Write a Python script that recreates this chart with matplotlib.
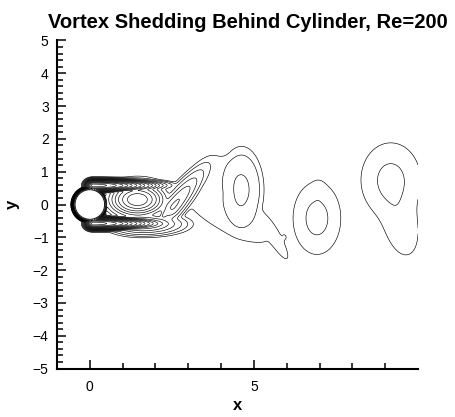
import numpy as np
import matplotlib
matplotlib.use("Agg")
import matplotlib.pyplot as plt
from matplotlib.patches import Circle
from matplotlib.ticker import MultipleLocator, FixedLocator

plt.rcParams["font.family"] = ["Liberation Sans", "DejaVu Sans"]

# cylinder
cyl_x, cyl_y, cyl_r = 0.0, 0.0, 0.45

# boundary layer wrapped around the cylinder
ring_peak = 40.0
ring_width = 0.06

# vorticity patches: centre, peak, spread downstream / upstream / across,
# tilt in degrees and profile exponent (1 = gaussian, >1 = flatter top)
#            sh+   sh-   spir  lower loop  braid A     Atail bump  env   B     Btip  C     Ctail bridge
patch_x = [0.10, 0.10, 1.45, 1.60, 2.30, 2.55, 4.62, 5.60, 5.92, 4.45, 6.92, 6.97, 9.17, 9.45, 3.90]
patch_y = [0.58, -0.58, 0.15, -0.60, -0.28, -0.05, 0.45, -0.95, -1.00, -0.45, -0.42, 0.40, 0.75, -0.50, 0.95]
patch_peak = [30.0, 30.0, 6.0, 3.0, 2.0, 2.5, 0.881, 0.45, 0.38, 0.45, 0.62, 0.40, 0.61, 0.50, 0.45]
patch_sa = [0.90, 0.90, 0.50, 0.75, 0.18, 0.95, 0.50, 0.80, 0.12, 1.20, 0.68, 0.22, 0.86, 1.25, 0.60]
patch_su = [0.12, 0.12, 0.50, 0.60, 0.18, 0.40, 0.50, 0.80, 0.12, 1.70, 0.68, 0.22, 0.86, 1.25, 0.60]
patch_sb = [0.09, 0.09, 0.30, 0.20, 0.08, 0.22, 0.96, 0.18, 0.15, 0.50, 1.03, 0.35, 1.07, 0.60, 0.50]
patch_tilt = [0, 0, 0, 0, 50, 51, 0, -60, 0, -27, 0, 0, 0, -77, 10]
patch_p = [1, 1, 1, 1, 1, 1, 1.5, 2, 1, 2, 1, 1, 1, 1, 2]

levels = [0.35, 0.55, 0.85, 1.3, 1.8, 2.4, 3.1, 4.0, 5.0, 6.5, 8.0, 10.0,
          12.5, 15.0, 18.0, 22.0, 27.0, 33.0, 40.0]

blend = 4  # power used to merge overlapping patches


def vorticity(x, y):
    r = np.hypot(x - cyl_x, y - cyl_y)
    front = 0.55 - 0.45 * (x - cyl_x) / np.maximum(r, 1e-9)
    total = (ring_peak * np.exp(-((r - cyl_r) / ring_width) ** 2) * front) ** blend
    for cx, cy, a, sa, su, sb, t, p in zip(patch_x, patch_y, patch_peak, patch_sa,
                                           patch_su, patch_sb, patch_tilt, patch_p):
        c, s = np.cos(np.radians(t)), np.sin(np.radians(t))
        u = (x - cx) * c + (y - cy) * s
        v = -(x - cx) * s + (y - cy) * c
        along = np.where(u > 0, sa, su)
        q = (u / along) ** 2 + (v / sb) ** 2
        total = total + (a * np.exp(-((q / 2) ** p))) ** blend
    w = total ** (1.0 / blend)
    return np.where(r < cyl_r, np.nan, w)


xg = np.linspace(-1.0, 10.0, 1100)
yg = np.linspace(-5.0, 5.0, 1000)
X, Y = np.meshgrid(xg, yg)
W = vorticity(X, Y)

fig = plt.figure(figsize=(4.55, 4.17), dpi=100)
ax = fig.add_axes([57 / 455, 48 / 417, 361 / 455, 329 / 417])

ax.contour(X, Y, W, levels=levels, colors="black", linewidths=0.45)
ax.add_patch(Circle((cyl_x, cyl_y), cyl_r, facecolor="white", edgecolor="black", lw=0.6, zorder=3))

ax.set_xlim(-1, 10)
ax.set_ylim(-5, 5)
ax.set_aspect("equal")

for side in ("top", "right"):
    ax.spines[side].set_visible(False)
for side in ("left", "bottom"):
    ax.spines[side].set_linewidth(1.5)

ax.xaxis.set_major_locator(FixedLocator([0, 5]))
ax.xaxis.set_minor_locator(FixedLocator([1, 2, 3, 4, 6, 7, 8, 9]))
ax.yaxis.set_major_locator(MultipleLocator(1))
ax.yaxis.set_minor_locator(MultipleLocator(0.2))
ax.tick_params(which="both", direction="in", width=1.1, top=False, right=False, labelsize=10)
ax.tick_params(which="major", length=6.5)
ax.tick_params(axis="x", which="major", pad=8)
ax.tick_params(axis="y", which="major", pad=6)
ax.tick_params(which="minor", length=4.3)

ax.set_xlabel("x", fontsize=12, fontweight="bold", labelpad=3)
ax.set_ylabel("y", fontsize=12, fontweight="bold", labelpad=9, rotation=90)
ax.set_title("Vortex Shedding Behind Cylinder, Re=200", fontsize=14.5, fontweight="bold",
             x=0.53, pad=9)

fig.savefig("out.png", dpi=100)
